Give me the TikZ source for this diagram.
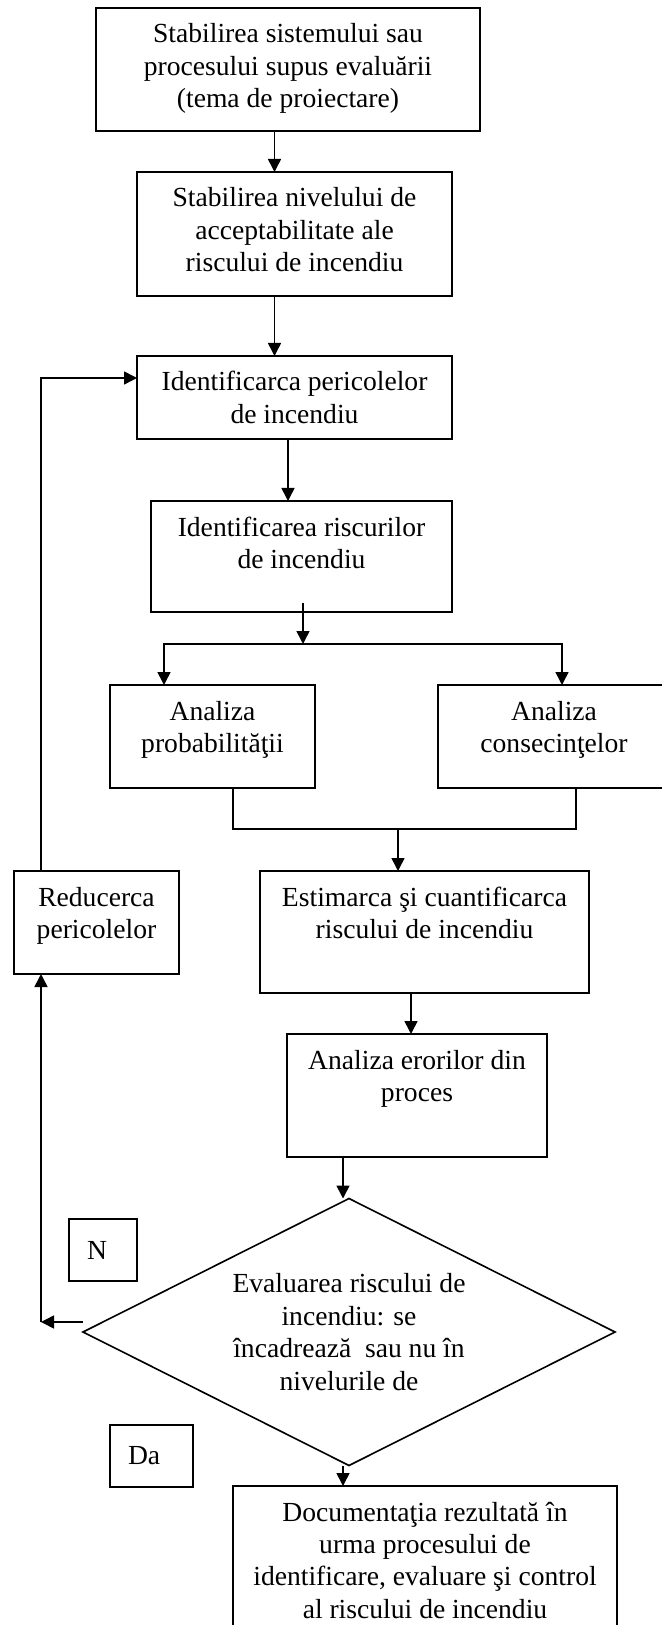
\documentclass[tikz,border=0pt]{standalone}
\usepackage{fontspec}
\setmainfont{Liberation Serif}
\usetikzlibrary{positioning,shapes.geometric,arrows.meta}
\newcommand{\boxtext}[3]{\parbox[c][#2][t]{#1}{\centering\rule{0pt}{17.5pt}#3}}

\begin{document}
\begin{tikzpicture}[line width=0.8pt,font=\fontsize{13.8}{16.2}\selectfont]
    \tikzstyle{box} = [rectangle,draw,inner sep=0pt,outer sep=0pt]
    \tikzstyle{decision} = [diamond,draw,aspect=2,inner sep=0pt,outer sep=0pt,align=center,minimum width=266pt,minimum height=133.5pt]
    \tikzstyle{tag} = [rectangle,draw,align=left,inner xsep=9pt,inner ysep=0pt,outer sep=0pt,minimum height=31pt]
    \tikzset{>={Triangle[length=6.5pt,width=6.5pt]}}

    \useasboundingbox (0,0) rectangle (330.5pt,-812.5pt);

    % main chain
    \node [box, anchor=north] (sys) at (144pt,-4pt) {\boxtext{192pt}{61.5pt}{Stabilirea sistemului sau\\procesului supus evaluării\\(tema de proiectare)}};
    \node [box, below=20.5pt of sys, xshift=3.25pt] (acc) {\boxtext{157.5pt}{62pt}{Stabilirea nivelului de\\acceptabilitate ale\\riscului de incendiu}};
    \node [box, below=30pt of acc] (per) {\boxtext{157.5pt}{41.5pt}{Identificarca pericolelor\\de incendiu}};
    \node [box, below=31pt of per, xshift=3.5pt] (risc) {\boxtext{150.5pt}{55.5pt}{Identificarea riscurilor\\de incendiu}};

    \node [box, below=36.5pt of risc, xshift=-44.5pt] (prob) {\boxtext{102.5pt}{51.5pt}{Analiza\\probabilităţii}};
    \node [box, right=61.5pt of prob] (cons) {\boxtext{116pt}{51.5pt}{Analiza\\consecinţelor}};

    \node [box, below=41.5pt of prob, xshift=106pt] (est) {\boxtext{164.5pt}{61pt}{Estimarca şi cuantificarca\\riscului de incendiu}};
    \node [box, anchor=north east] (red) at ([xshift=-40.5pt]est.north west) {\boxtext{82.5pt}{51.5pt}{Reducerca\\pericolelor}};
    \node [box, below=20.5pt of est, xshift=-3.75pt] (err) {\boxtext{130pt}{61.5pt}{Analiza erorilor din\\proces}};

    \node [decision, below=20.75pt of err, xshift=-34pt] (dec) {Evaluarea riscului de\\incendiu: se\\încadrează\ \ sau nu în\\nivelurile de};
    \node [box, below=10.25pt of dec, xshift=38pt] (doc) {\boxtext{192pt}{80pt}{Documentaţia rezultată în\\urma procesului de\\identificare, evaluare şi control\\al riscului de incendiu}};

    \node [tag, text width=16pt] (no) at ([shift={(10pt,41pt)}]dec.west) {N};
    \node [tag, text width=23.5pt, anchor=north east] (yes) at ([shift={(-20pt,30.5pt)}]doc.north west) {Da};

    % connectors
    \draw [->] ([xshift=-6.75pt]sys.south) -- ([xshift=-6.75pt]sys.south |- acc.north);
    \draw [->] ([xshift=-10pt]acc.south) -- ([xshift=-10pt]acc.south |- per.north);
    \draw [->] ([xshift=-3.25pt]per.south) -- ([xshift=-3.25pt]per.south |- risc.north);

    \coordinate [below=16pt of risc.south, xshift=0.75pt] (fork);
    \draw [->] ([xshift=0.75pt,yshift=4.5pt]risc.south) -- (fork);
    \draw [->] (fork) -| ([xshift=-24.25pt]prob.north);
    \draw [->] (fork) -| ([xshift=4pt]cons.north);

    \coordinate (merge) at ([xshift=-13.25pt,yshift=21pt]est.north);
    \draw ([xshift=10.25pt]prob.south) |- (merge) -| ([xshift=11pt]cons.south);
    \draw [->] (merge) -- ([xshift=-13.25pt]est.north);

    \draw [->] ([xshift=-6.75pt]est.south) -- ([xshift=-6.75pt]est.south |- err.north);
    \draw [->] ([xshift=-3pt]dec.north |- err.south) -- ([xshift=-3pt]dec.north);
    \draw [->] ([xshift=-3pt]dec.south) -- ([xshift=-3pt]dec.south |- doc.north);

    % feedback loop
    \coordinate [left=21pt of dec.west, yshift=5pt] (corner);
    \draw [->] ([yshift=5pt]dec.west) -- (corner);
    \draw [->] (corner) -- (corner |- red.south);
    \draw [->] ([xshift=-27.75pt]red.north) |- ([yshift=9.75pt]per.west);

\end{tikzpicture}
\end{document}
